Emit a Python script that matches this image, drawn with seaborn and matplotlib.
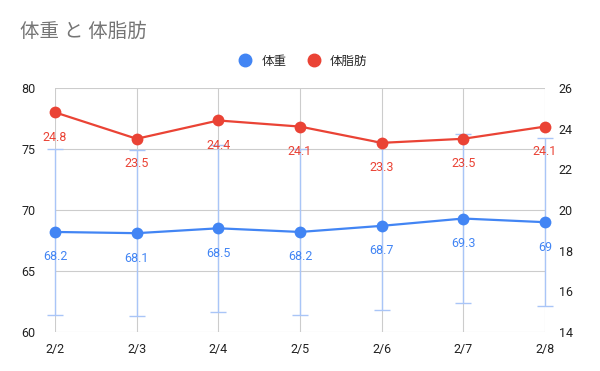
import numpy as np
import pandas as pd
import matplotlib.pyplot as plt
import seaborn as sns

# データ
dates = ["2/2", "2/3", "2/4", "2/5", "2/6", "2/7", "2/8"]
weight = [68.2, 68.1, 68.5, 68.2, 68.7, 69.3, 69]
body_fat = [24.8, 23.5, 24.4, 24.1, 23.3, 23.5, 24.1]
weight_err_ratio = 0.10  # 誤差範囲 10%

blue = "#4285F4"
red = "#EA4335"
err_color = "#A9C5F7"

sns.set_theme(style="white")
plt.rcParams["font.family"] = ["Roboto", "Noto Sans CJK JP", "DejaVu Sans"]

df = pd.DataFrame({"date": dates, "weight": weight, "body_fat": body_fat})
df["pos"] = np.arange(len(df))

fig = plt.figure(figsize=(6, 3.71), dpi=100)
ax = fig.add_axes([0.0917, 0.105, 0.8166, 0.658])
ax2 = ax.twinx()

# 体重の誤差範囲
eb = ax.errorbar(df["pos"], df["weight"], yerr=df["weight"] * weight_err_ratio,
                 fmt="none", ecolor=err_color, elinewidth=1, capsize=6,
                 capthick=1, zorder=2)
for art in eb.lines[1] + eb.lines[2]:
    art.set_clip_on(False)
sns.lineplot(data=df, x="pos", y="weight", ax=ax, color=blue, marker="o",
             markersize=8.5, markeredgewidth=0, linewidth=1.6, zorder=3,
             clip_on=False)
sns.lineplot(data=df, x="pos", y="body_fat", ax=ax2, color=red, marker="o",
             markersize=8.5, markeredgewidth=0, linewidth=1.6, zorder=3,
             clip_on=False)

for x, v in zip(df["pos"], df["weight"]):
    ax.annotate(f"{v:g}", (x, v), xytext=(0, -18), textcoords="offset points",
                ha="center", va="center", color=blue, fontsize=9)
for x, v in zip(df["pos"], df["body_fat"]):
    ax2.annotate(f"{v:g}", (x, v), xytext=(0, -18), textcoords="offset points",
                 ha="center", va="center", color=red, fontsize=9)

ax.set_xlim(0, len(dates) - 1)
ax.set_ylim(60, 80)
ax2.set_ylim(14, 26)
ax.set_xticks(df["pos"])
ax.set_xticklabels(dates)
ax.set_yticks([60, 65, 70, 75, 80])
ax2.set_yticks([14, 16, 18, 20, 22, 24, 26])
ax.set_xlabel("")
ax.set_ylabel("")
ax2.set_ylabel("")

ax.grid(True, color="#CCCCCC", linewidth=0.8)
ax2.grid(False)
for a in (ax, ax2):
    for s in a.spines.values():
        s.set_visible(False)
    a.tick_params(length=0, labelsize=9, colors="#222222")
ax.tick_params(axis="x", pad=8)
ax.tick_params(axis="y", pad=14)
ax2.tick_params(axis="y", pad=10)
ax.set_zorder(ax2.get_zorder() - 1)
ax.patch.set_visible(False)
ax2.patch.set_visible(False)

fig.text(0.033, 0.915, "体重 と 体脂肪", fontsize=14, color="#757575",
         va="center")

handles = [
    plt.Line2D([], [], marker="o", color=blue, linestyle="none", markersize=9),
    plt.Line2D([], [], marker="o", color=red, linestyle="none", markersize=9),
]
fig.legend(handles, ["体重", "体脂肪"], loc="center", bbox_to_anchor=(0.5, 0.835),
           ncol=2, frameon=False, fontsize=9, handletextpad=0.3,
           columnspacing=1.2)

fig.savefig("out.png", dpi=100)
